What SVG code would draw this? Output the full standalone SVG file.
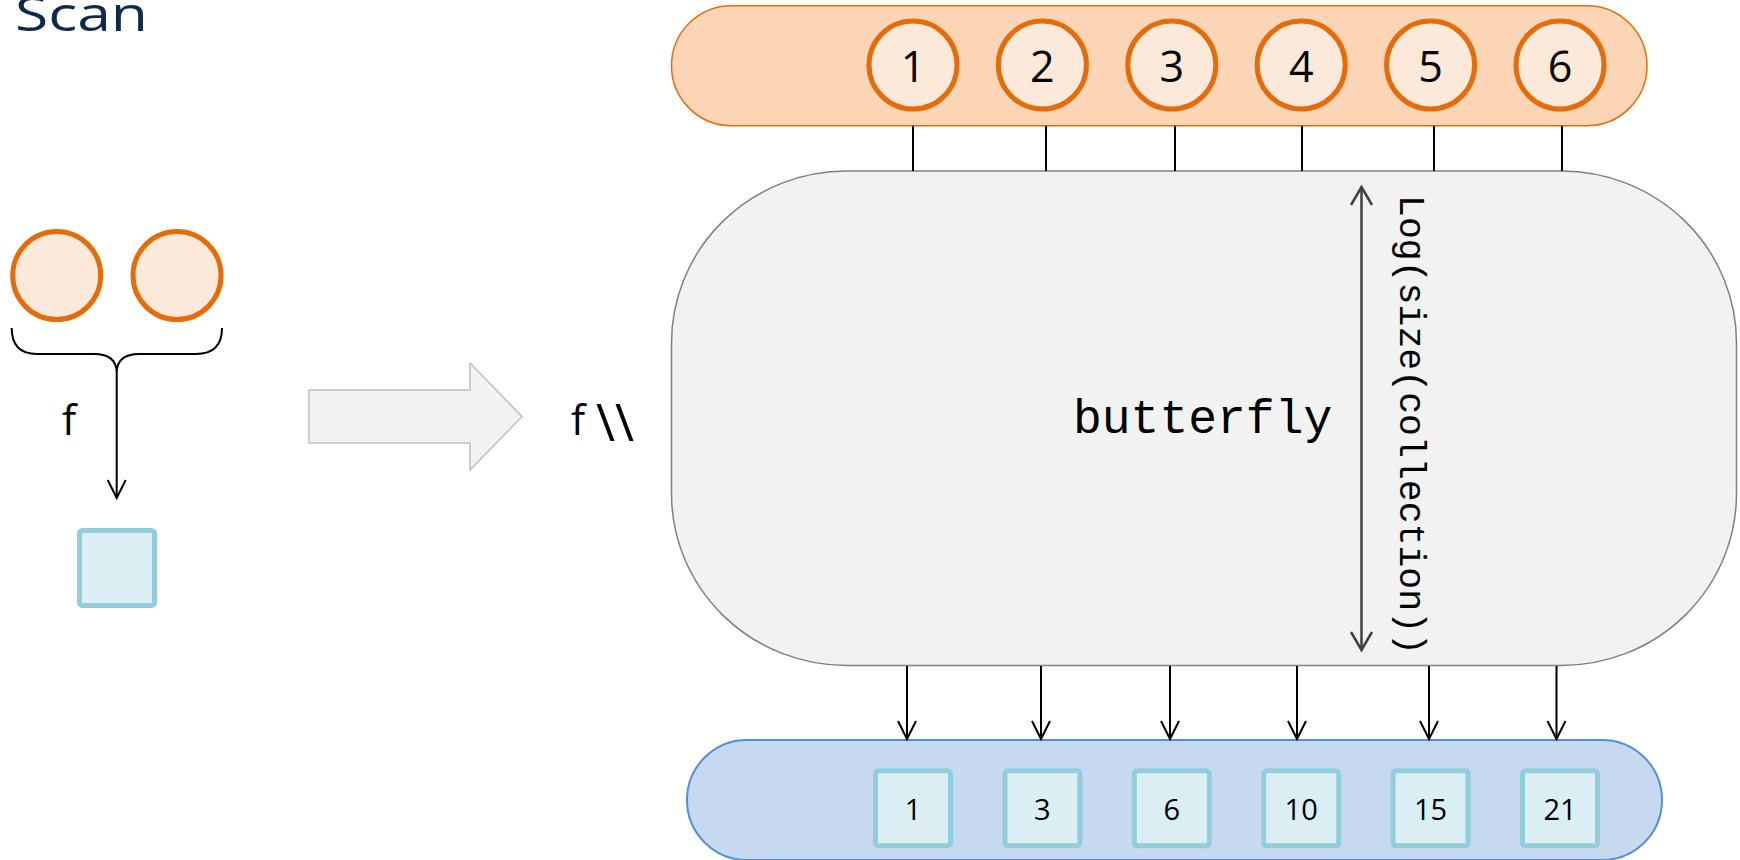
<svg xmlns="http://www.w3.org/2000/svg" width="1740" height="860" viewBox="0 0 1740 860">
  <style>
    .sans { font-family: "Open Sans", "Liberation Sans", sans-serif; fill: #000; }
    .mono { font-family: "Liberation Mono", "DejaVu Sans Mono", monospace; fill: #000; }
    .item { fill: #fde9d9; stroke: #e46c0a; stroke-width: 5; }
    .cell { fill: #dbeef4; stroke: #92cddc; stroke-width: 5; }
    .link { stroke: #000; stroke-width: 2; fill: none; }
    .num { font-size: 43px; text-anchor: middle; }
    .val { font-size: 29px; text-anchor: middle; }
  </style>
  <defs>
    <marker id="vee" markerUnits="userSpaceOnUse" markerWidth="24" markerHeight="26" viewBox="-21 -13 24 26" refX="0" refY="0" orient="auto" overflow="visible">
      <path d="M -18,-9 L 0,0 L -18,9" fill="none" stroke="#000" stroke-width="2"/>
    </marker>
    <marker id="veeGray" markerUnits="userSpaceOnUse" markerWidth="24" markerHeight="26" viewBox="-21 -13 24 26" refX="0" refY="0" orient="auto-start-reverse" overflow="visible">
      <path d="M -18,-10.5 L 0,0 L -18,10.5" fill="none" stroke="#404040" stroke-width="2.5"/>
    </marker>
  </defs>

  <rect width="1740" height="860" fill="#fff"/>

  <!-- title -->
  <text id="title" x="15" y="31" font-family="'Open Sans', 'Liberation Sans', sans-serif" font-size="48" font-weight="500" fill="#10294a" textLength="133" lengthAdjust="spacingAndGlyphs">Scan</text>

  <!-- left: combining two elements with f -->
  <g id="pair">
    <circle class="item" cx="56.7" cy="275.5" r="44"/>
    <circle class="item" cx="177" cy="275.5" r="44"/>
  </g>
  <g id="brace">
    <path class="link" d="M 11.7,328 Q 11.7,354 37,354 L 94,354 Q 116.7,354 116.7,373 Q 116.7,354 139.4,354 L 196,354 Q 222,354 222,328"/>
  </g>
  <text id="label-f" class="sans" x="62" y="435" font-size="42">f</text>
  <g id="result">
    <rect class="cell" x="79.5" y="530.5" width="75" height="75" rx="3"/>
  </g>

  <!-- big transition arrow -->
  <g id="big-arrow">
    <polygon points="309,390 470,390 470,363 522,416.5 470,470 470,443 309,443" fill="#f2f2f2" stroke="#bfbfbf" stroke-width="1.5"/>
  </g>
  <text id="label-scan" class="sans" x="571" y="435" font-size="42">f <tspan font-size="52" dy="6">\\</tspan></text>

  <!-- input collection -->
  <g id="input">
    <rect x="671.5" y="5.7" width="975.5" height="120" rx="60" ry="60" fill="#fbd5b5" stroke="#e46c0a" stroke-width="1.5"/>
    <circle class="item" cx="913" cy="65" r="44"/>
    <circle class="item" cx="1042.4" cy="65" r="44"/>
    <circle class="item" cx="1171.8" cy="65" r="44"/>
    <circle class="item" cx="1301.2" cy="65" r="44"/>
    <circle class="item" cx="1430.6" cy="65" r="44"/>
    <circle class="item" cx="1560" cy="65" r="44"/>
    <text class="sans num" x="913" y="82">1</text>
    <text class="sans num" x="1042.4" y="82">2</text>
    <text class="sans num" x="1171.8" y="82">3</text>
    <text class="sans num" x="1301.2" y="82">4</text>
    <text class="sans num" x="1430.6" y="82">5</text>
    <text class="sans num" x="1560" y="82">6</text>
  </g>

  <!-- butterfly network -->
  <g id="butterfly">
    <rect x="671.5" y="171" width="1065" height="494.5" rx="175" ry="172" fill="#f2f2f2" stroke="#808080" stroke-width="1.5"/>
    <text class="mono" x="1073" y="433" font-size="48">butterfly</text>
    <line x1="1361.5" y1="187" x2="1361.5" y2="650" stroke="#404040" stroke-width="2.5" marker-start="url(#veeGray)" marker-end="url(#veeGray)"/>
    <text class="mono" transform="translate(1400,195) rotate(90)" x="0" y="0" font-size="36.5">Log(size(collection))</text>
  </g>

  <!-- output collection -->
  <g id="output">
    <rect x="687" y="740" width="975" height="120" rx="60" ry="60" fill="#c6d9f1" stroke="#558ed5" stroke-width="2"/>
    <rect class="cell" x="875.5" y="770.8" width="75" height="75" rx="3"/>
    <rect class="cell" x="1004.9" y="770.8" width="75" height="75" rx="3"/>
    <rect class="cell" x="1134.3" y="770.8" width="75" height="75" rx="3"/>
    <rect class="cell" x="1263.7" y="770.8" width="75" height="75" rx="3"/>
    <rect class="cell" x="1393.1" y="770.8" width="75" height="75" rx="3"/>
    <rect class="cell" x="1522.5" y="770.8" width="75" height="75" rx="3"/>
    <text class="sans val" x="913" y="820">1</text>
    <text class="sans val" x="1042.4" y="820">3</text>
    <text class="sans val" x="1171.8" y="820">6</text>
    <text class="sans val" x="1301.2" y="820">10</text>
    <text class="sans val" x="1430.6" y="820">15</text>
    <text class="sans val" x="1560" y="820">21</text>
  </g>

  <!-- connectors -->
  <g id="connectors">
    <line class="link" x1="116.7" y1="373" x2="116.7" y2="498" marker-end="url(#vee)"/>
    <line class="link" x1="913" y1="126" x2="913" y2="171"/>
    <line class="link" x1="1046" y1="126" x2="1046" y2="171"/>
    <line class="link" x1="1175" y1="126" x2="1175" y2="171"/>
    <line class="link" x1="1302" y1="126" x2="1302" y2="171"/>
    <line class="link" x1="1434" y1="126" x2="1434" y2="171"/>
    <line class="link" x1="1562" y1="126" x2="1562" y2="171"/>
    <line class="link" x1="907" y1="666" x2="907" y2="739" marker-end="url(#vee)"/>
    <line class="link" x1="1041" y1="666" x2="1041" y2="739" marker-end="url(#vee)"/>
    <line class="link" x1="1170" y1="666" x2="1170" y2="739" marker-end="url(#vee)"/>
    <line class="link" x1="1297" y1="666" x2="1297" y2="739" marker-end="url(#vee)"/>
    <line class="link" x1="1429" y1="666" x2="1429" y2="739" marker-end="url(#vee)"/>
    <line class="link" x1="1556.5" y1="666" x2="1556.5" y2="739" marker-end="url(#vee)"/>
  </g>
</svg>
